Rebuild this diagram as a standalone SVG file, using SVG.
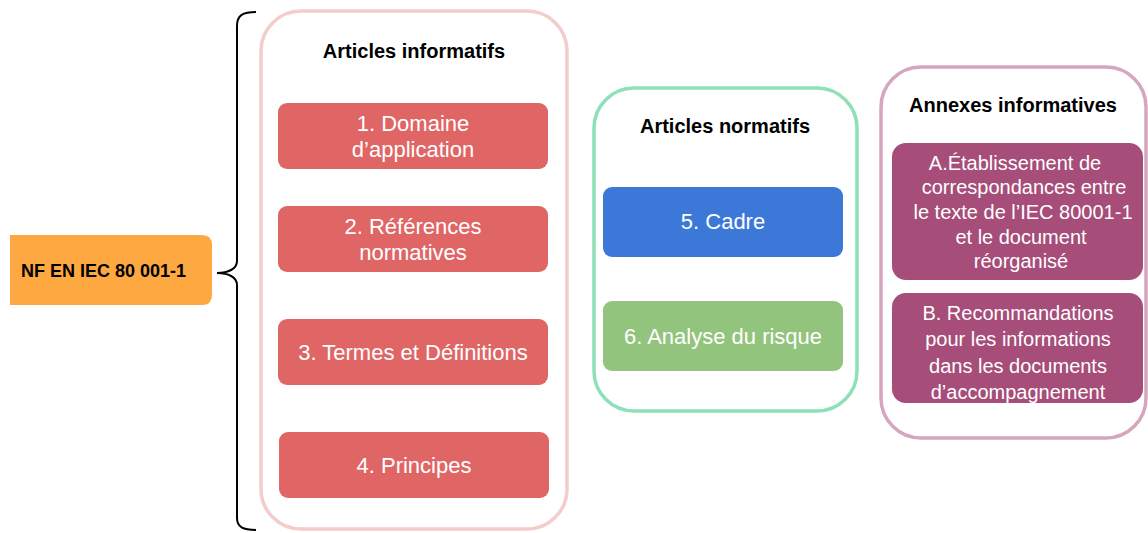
<svg xmlns="http://www.w3.org/2000/svg" width="1148" height="533" viewBox="0 0 1148 533">
<style>
  .title{font-family:"Liberation Sans",Arial,sans-serif;font-weight:bold;font-size:20px;fill:#000;text-anchor:middle}
  .lbl{font-family:"Liberation Sans",Arial,sans-serif;font-size:22px;fill:#fff;text-anchor:middle}
  .ann{font-family:"Liberation Sans",Arial,sans-serif;font-size:20px;fill:#fff;text-anchor:middle}
  .cont{fill:#fff;stroke-width:3.5}
  .red{fill:#e06666}
</style>
<rect width="1148" height="533" fill="#fff"/>
<g id="root">
  <path d="M10,235 H202 Q212,235 212,245 V295 Q212,305 202,305 H10 Z" fill="#fda840"/>
  <text x="186" y="277" font-family="Liberation Sans, Arial, sans-serif" font-weight="bold" font-size="18" text-anchor="end" fill="#000">NF EN IEC 80 001-1</text>
</g>
<g id="connectors">
  <path d="M256,12 C243,12 237,15 237,26 L237,261 C237,269 228,273 217,273 C228,273 237,277 237,285 L237,518 C237,527 243,530 256,530" fill="none" stroke="#000" stroke-width="2"/>
</g>
<g id="informatifs">
  <rect class="cont" x="261" y="11" width="306" height="518" rx="40" stroke="#f4cccc"/>
  <text class="title" x="414" y="58">Articles informatifs</text>
</g>
<g id="art1">
  <rect class="red" x="278" y="103" width="270" height="66" rx="9"/>
  <text class="lbl" x="413" y="131">1. Domaine</text>
  <text class="lbl" x="413" y="157">d’application</text>
</g>
<g id="art2">
  <rect class="red" x="278" y="206" width="270" height="66" rx="9"/>
  <text class="lbl" x="413" y="234">2. Références</text>
  <text class="lbl" x="413" y="260">normatives</text>
</g>
<g id="art3">
  <rect class="red" x="278" y="319" width="270" height="66" rx="9"/>
  <text class="lbl" x="413" y="360">3. Termes et Définitions</text>
</g>
<g id="art4">
  <rect class="red" x="279" y="432" width="270" height="66" rx="9"/>
  <text class="lbl" x="414" y="473">4. Principes</text>
</g>
<g id="normatifs">
  <rect class="cont" x="594" y="88" width="263" height="323" rx="40" stroke="#8ee0b8"/>
  <text class="title" x="725" y="133">Articles normatifs</text>
</g>
<g id="art5">
  <rect x="603" y="187" width="240" height="70" rx="9" fill="#3c78d8"/>
  <text class="lbl" x="723" y="229">5. Cadre</text>
</g>
<g id="art6">
  <rect x="603" y="301" width="240" height="70" rx="9" fill="#93c47d"/>
  <text class="lbl" x="723" y="344">6. Analyse du risque</text>
</g>
<g id="annexes">
  <rect class="cont" x="881" y="67" width="265" height="371" rx="40" stroke="#d5a6bd"/>
  <text class="title" x="1013" y="112">Annexes informatives</text>
</g>
<g id="annexA">
  <rect x="892" y="143" width="251" height="137" rx="14" fill="#a64d79"/>
  <text class="ann" x="1015" y="170">A.Établissement de</text>
  <text class="ann" x="1024" y="194">correspondances entre</text>
  <text class="ann" x="1023" y="219">le texte de l’IEC 80001-1</text>
  <text class="ann" x="1021" y="244">et le document</text>
  <text class="ann" x="1021" y="268">réorganisé</text>
</g>
<g id="annexB">
  <rect x="892" y="293" width="251" height="110" rx="14" fill="#a64d79"/>
  <text class="ann" x="1018" y="320">B. Recommandations</text>
  <text class="ann" x="1018" y="346">pour les informations</text>
  <text class="ann" x="1018" y="373">dans les documents</text>
  <text class="ann" x="1018" y="399">d’accompagnement</text>
</g>
</svg>
